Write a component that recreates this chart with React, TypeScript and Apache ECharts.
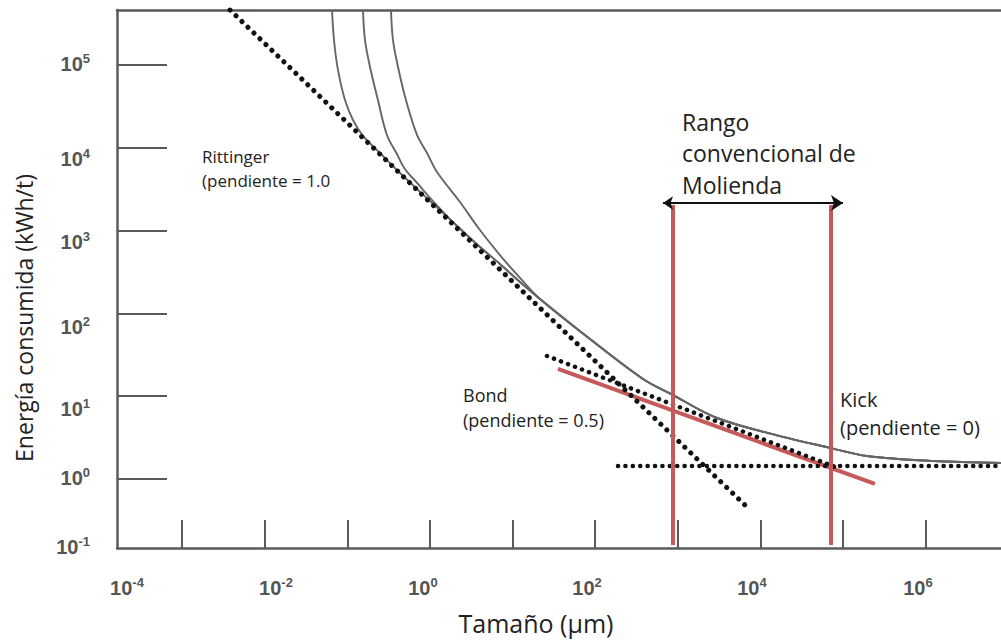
import React, { useEffect, useRef } from "react";
import * as echarts from "echarts";

// All values are log10 units: size in µm (x), energy in kWh/t (y)
const curveALogSize = [-1.186, -1.162, -1.114, -1.029, -0.932, -0.811, -0.605, -0.363, 0.0, 0.303, 0.605, 0.847, 1.09];
const curveALogEnergy = [5.664, 5.302, 4.94, 4.577, 4.336, 4.143, 3.937, 3.696, 3.357, 3.08, 2.802, 2.597, 2.379];
const curveBLogSize = [-0.811, -0.787, -0.726, -0.63, -0.521, -0.4, -0.303, -0.145, 0.036, 0.303, 0.605, 0.847, 1.09];
const curveBLogEnergy = [5.664, 5.302, 4.976, 4.577, 4.155, 3.925, 3.744, 3.563, 3.357, 3.08, 2.802, 2.597, 2.379];
const curveCLogSize = [-0.472, -0.448, -0.387, -0.291, -0.157, -0.036, 0.085, 0.363, 0.605, 0.847, 1.09];
const curveCLogEnergy = [5.664, 5.302, 4.976, 4.577, 4.155, 3.937, 3.708, 3.345, 3.007, 2.705, 2.428];
const tailLogSize = [1.332, 1.937, 2.579, 2.942, 3.475, 4.237, 4.855, 5.291, 6.09, 6.913];
const tailLogEnergy = [2.174, 1.691, 1.208, 1.014, 0.737, 0.519, 0.374, 0.278, 0.217, 0.193];

const rittingerLogSize = [-2.421, 3.814];
const rittingerLogEnergy = [5.664, -0.314];
const bondLogSize = [1.416, 4.903];
const bondLogEnergy = [1.486, 0.145];
const kickLogSize = [2.276, 6.913];
const kickLogEnergy = [0.157, 0.157];
const redTrendLogSize = [1.55, 5.387];
const redTrendLogEnergy = [1.329, -0.06];
const rangeLogSize = [2.942, 4.855];
const rangeTopLogEnergy = 3.309;
const rangeBottomLogEnergy = -0.797;
const arrowLogSize = [2.821, 5.0];
const arrowLogEnergy = 3.333;

const X_MIN = -3.789;
const X_MAX = 6.913;
const Y_MIN = -0.833;
const Y_MAX = 5.664;

const xTickExp = [-3, -2, -1, 0, 1, 2, 3, 4, 5, 6];
const yTickExp = [0, 1, 2, 3, 4, 5];
const xLabelExp = [-4, -2, 0, 2, 4, 6];
const xLabelPos = [-3.668, -1.864, -0.085, 1.901, 3.898, 5.908];
const yLabelExp = [-1, 0, 1, 2, 3, 4, 5];
const yLabelPos = [-0.821, 0.012, 0.845, 1.836, 2.862, 3.865, 5.01];

const zip = (xs: number[], ys: number[]) => xs.map((x, i) => [x, ys[i]]);
const nearest = (arr: number[], v: number) => {
  let best = 0;
  arr.forEach((a, i) => {
    if (Math.abs(a - v) < Math.abs(arr[best] - v)) best = i;
  });
  return best;
};

const AXIS_COLOR = "#5a5a5a";
const CURVE_COLOR = "#666666";
const RED = "#c65a5a";
const DOT = "#111111";
const TEXT = "#222222";
const FONT = '"Open Sans", "Noto Sans", sans-serif';
const LABEL_FONT = '"Liberation Sans", Arial, sans-serif';

const labelRich = {
  b: { fontSize: 20, fontWeight: "bold", color: "#555", fontFamily: LABEL_FONT, lineHeight: 24 },
  s: { fontSize: 13, fontWeight: "bold", color: "#555", fontFamily: LABEL_FONT, lineHeight: 18, verticalAlign: "top" },
};

export default function App() {
  const ref = useRef<HTMLDivElement>(null);
  useEffect(() => {
    if (!ref.current) return;
    const chart = echarts.init(ref.current, undefined, { renderer: "svg" });
    const curveSeries = (name: string, xs: number[], ys: number[]) => ({
      name,
      type: "line",
      data: zip(xs.concat(tailLogSize), ys.concat(tailLogEnergy)),
      showSymbol: false,
      smooth: 0.35,
      lineStyle: { color: CURVE_COLOR, width: 1.9 },
      z: 2,
    });
    const dotted = (name: string, xs: number[], ys: number[], gap: number, w: number) => ({
      name,
      type: "line",
      data: zip(xs, ys),
      showSymbol: false,
      lineStyle: { color: DOT, width: w, type: [0.1, gap], cap: "round" },
      z: 4,
    });
    const option: any = {
      animation: false,
      backgroundColor: "#ffffff",
      grid: { left: 117, top: 10, right: 0, bottom: 92, containLabel: false, outerBoundsMode: "none" },
      xAxis: [
        {
          type: "value",
          min: X_MIN,
          max: X_MAX,
          position: "bottom",
          axisLine: { show: true, onZero: false, lineStyle: { color: AXIS_COLOR, width: 2.5 } },
          axisTick: { show: true, inside: true, length: 28, customValues: xTickExp, lineStyle: { color: AXIS_COLOR, width: 2 } },
          axisLabel: {
            show: true,
            margin: 28,
            customValues: xLabelPos,
            formatter: (v: number) => `{b|10}{s|${xLabelExp[nearest(xLabelPos, v)]}}`,
            rich: labelRich,
          },
          splitLine: { show: false },
        },
        {
          type: "value",
          min: X_MIN,
          max: X_MAX,
          position: "top",
          axisLine: { show: true, onZero: false, lineStyle: { color: AXIS_COLOR, width: 2.5 } },
          axisTick: { show: false },
          axisLabel: { show: false },
          splitLine: { show: false },
        },
      ],
      yAxis: {
        type: "value",
        min: Y_MIN,
        max: Y_MAX,
        axisLine: { show: true, onZero: false, lineStyle: { color: AXIS_COLOR, width: 2.5 } },
        axisTick: { show: true, inside: true, length: 50, customValues: yTickExp, lineStyle: { color: AXIS_COLOR, width: 2 } },
        axisLabel: {
          show: true,
          margin: 27,
          customValues: yLabelPos,
          formatter: (v: number) => `{b|10}{s|${yLabelExp[nearest(yLabelPos, v)]}}`,
          rich: labelRich,
        },
        splitLine: { show: false },
      },
      series: [
        curveSeries("Curva A", curveALogSize, curveALogEnergy),
        curveSeries("Curva B", curveBLogSize, curveBLogEnergy),
        curveSeries("Curva C", curveCLogSize, curveCLogEnergy),
        {
          name: "Tendencia",
          type: "line",
          data: zip(redTrendLogSize, redTrendLogEnergy),
          showSymbol: false,
          lineStyle: { color: RED, width: 4 },
          z: 3,
        },
        dotted("Rittinger", rittingerLogSize, rittingerLogEnergy, 8.2, 5),
        dotted("Bond", bondLogSize, bondLogEnergy, 7.4, 4.5),
        dotted("Kick", kickLogSize, kickLogEnergy, 7.3, 4.5),
        ...rangeLogSize.map((x, i) => ({
          name: "Rango " + i,
          type: "line",
          data: [
            [x, rangeTopLogEnergy],
            [x, rangeBottomLogEnergy],
          ],
          showSymbol: false,
          lineStyle: { color: RED, width: 4 },
          z: 5,
        })),
        {
          name: "Flecha",
          type: "lines",
          coordinateSystem: "cartesian2d",
          symbol: ["arrow", "arrow"],
          symbolSize: [10, 12],
          lineStyle: { color: "#111", width: 2, opacity: 1 },
          data: [
            {
              coords: [
                [arrowLogSize[0], arrowLogEnergy],
                [arrowLogSize[1], arrowLogEnergy],
              ],
            },
          ],
          z: 6,
        },
      ],
      graphic: [
        {
          type: "text",
          x: 202,
          y: 144,
          style: { text: "Rittinger\n(pendiente = 1.0", fontSize: 17, fontFamily: FONT, fill: TEXT, lineHeight: 24, verticalAlign: "top" },
        },
        {
          type: "text",
          x: 463,
          y: 382,
          style: { text: "Bond\n(pendiente = 0.5)", fontSize: 18, fontFamily: FONT, fill: TEXT, lineHeight: 25, verticalAlign: "top" },
        },
        {
          type: "text",
          x: 840,
          y: 386,
          style: { text: "Kick\n(pendiente = 0)", fontSize: 20, fontFamily: FONT, fill: TEXT, lineHeight: 27.5, verticalAlign: "top" },
        },
        {
          type: "text",
          x: 682,
          y: 106,
          style: { text: "Rango\nconvencional de\nMolienda", fontSize: 23, fontFamily: FONT, fill: TEXT, lineHeight: 31.5, verticalAlign: "top" },
        },
        {
          type: "text",
          x: 536,
          y: 623,
          style: { text: "Tamaño (µm)", fontSize: 25, fontFamily: FONT, fill: TEXT, align: "center", verticalAlign: "middle" },
        },
        {
          type: "text",
          x: 24,
          y: 318,
          rotation: Math.PI / 2,
          style: { text: "Energía consumida (kWh/t)", fontSize: 23, fontFamily: FONT, fill: TEXT, align: "center", verticalAlign: "middle" },
        },
      ],
    };
    chart.setOption(option);
    return () => chart.dispose();
  }, []);
  return (
    <div
      ref={ref}
      style={{ position: "absolute", left: 0, top: 0, width: 1001, height: 640, background: "#fff" }}
    />
  );
}
